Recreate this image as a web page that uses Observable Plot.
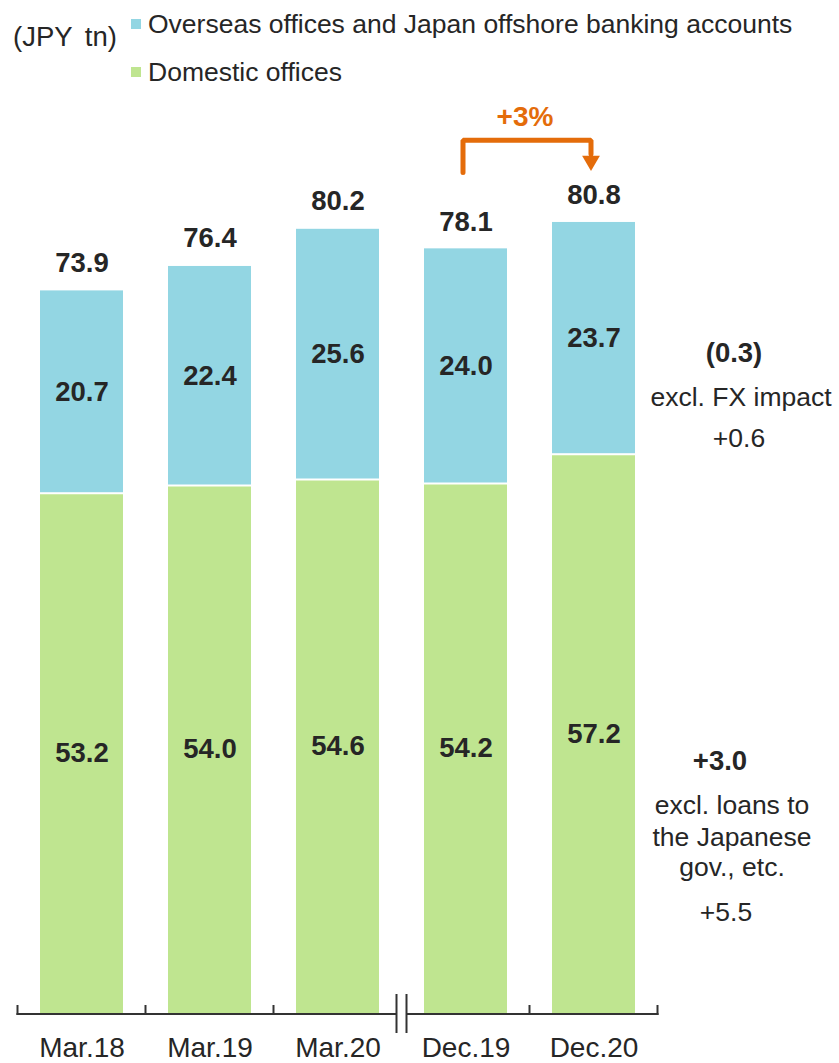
<!DOCTYPE html>
<html><head><meta charset="utf-8">
<script src="https://cdn.jsdelivr.net/npm/d3@7"></script>
<script src="https://cdn.jsdelivr.net/npm/@observablehq/plot@0.6"></script>
<style>
html,body{margin:0;padding:0;overflow:hidden;background:#fff;}
#wrap{position:relative;width:839px;height:1063px;font-family:"Liberation Sans",Arial,sans-serif;}
#chart{position:absolute;left:0;top:0;}
.lg{position:absolute;font-size:26.5px;line-height:26px;color:#262626;white-space:nowrap;}
.sw{position:absolute;width:10px;height:10px;}
</style></head><body>
<div id="wrap"><div id="chart"></div></div>
<script>
// ---- data ----
const categories = ["Mar.18","Mar.19","Mar.20","Dec.19","Dec.20"];
const domestic = [53.2, 54.0, 54.6, 54.2, 57.2];
const overseas = [20.7, 22.4, 25.6, 24.0, 23.7];
const totals = [73.9, 76.4, 80.2, 78.1, 80.8];
const seriesNames = ["Domestic offices", "Overseas offices and Japan offshore banking accounts"];
const seriesColors = ["#BFE590", "#93D6E3"];
const unitLabel = "(JPY tn)";
const breakAfter = "Mar.20";
const growthLabel = "+3%";
const growthFrom = "Dec.19", growthTo = "Dec.20";
const bracketLevel = 89.3, bracketFromEnd = 86.0, bracketToEnd = 87.9, arrowHead = 87.2;
const overseasNotes = ["(0.3)", "excl. FX impact", "+0.6"];
const domesticNotes = ["+3.0", "excl. loans to", "the Japanese", "gov., etc.", "+5.5"];

// ---- derived tables ----
const rows = [];
categories.forEach((c, i) => {
  rows.push({cat: c, series: seriesNames[0], value: domestic[i], mid: domestic[i] / 2});
  rows.push({cat: c, series: seriesNames[1], value: overseas[i], mid: domestic[i] + overseas[i] / 2});
});
const seps = categories.map((c, i) => ({cat: c, y: domestic[i]}));
const tots = categories.map((c, i) => ({cat: c, y: totals[i], label: totals[i].toFixed(1)}));
const last = categories.length - 1;
const bracket = [
  {x: growthFrom, y: bracketFromEnd},
  {x: growthFrom, y: bracketLevel},
  {x: growthTo, y: bracketLevel},
  {x: growthTo, y: bracketToEnd}
];
const orange = "#E46C0A";
const ink = "#262626";
const overMid = domestic[last] + overseas[last] / 2;
const domMid = domestic[last] / 2;
const overDy = [15, 59, 100], overDx = [140, 147, 145];
const domDy = [27, 72, 104, 134, 179], domDx = [126, 138, 138, 138, 132];
const noteBold = (j) => j === 0;

// custom broken x axis drawn from the band scale
function axisMark(index, scales) {
  const x = scales.x, y = scales.y;
  const step = x.step(), bw = x.bandwidth();
  const b0 = x(categories[0]) - (step - bw) / 2;
  const k = categories.indexOf(breakAfter) + 1;
  const n = categories.length;
  const y0 = y(0) + 1;
  const ns = "http://www.w3.org/2000/svg";
  const g = document.createElementNS(ns, "g");
  g.setAttribute("stroke", "#333");
  g.setAttribute("stroke-width", "2");
  g.setAttribute("fill", "none");
  const line = (x1, y1, x2, y2) => {
    const l = document.createElementNS(ns, "line");
    l.setAttribute("x1", x1); l.setAttribute("y1", y1);
    l.setAttribute("x2", x2); l.setAttribute("y2", y2);
    g.appendChild(l);
  };
  const bk = b0 + k * step;
  line(b0 - 1, y0, bk - 5, y0);
  line(bk + 5, y0, b0 + n * step + 1, y0);
  for (let i = 0; i <= n; i++) {
    if (i === k) continue;
    const bx = b0 + i * step;
    line(bx, y0 - 9, bx, y0 + 1);
  }
  line(bk - 5, y0 - 20, bk - 5, y0 + 19);
  line(bk + 5, y0 - 20, bk + 5, y0 + 19);
  return g;
}

const noteMarks = (notes, yMid, dxs, dys) => notes.map((t, j) =>
  Plot.text([t], {x: () => categories[last], y: () => yMid, text: d => d,
    dx: dxs[j], dy: dys[j], fontSize: noteBold(j) ? 27.5 : 26.5,
    fontWeight: noteBold(j) ? "bold" : "normal", fill: ink}));

const chart = Plot.plot({
  width: 839,
  height: 1063,
  marginTop: 0,
  marginBottom: 50,
  marginLeft: 15.6,
  marginRight: 179.6,
  x: {domain: categories, paddingInner: 0.348, paddingOuter: 0.174, axis: null},
  y: {domain: [0, 103.6], axis: null},
  color: {domain: seriesNames, range: seriesColors},
  style: {fontFamily: "'Liberation Sans', Arial, sans-serif", background: "white", overflow: "visible"},
  marks: [
    Plot.barY(rows, {x: "cat", y: "value", fill: "series", order: seriesNames}),
    Plot.tickY(seps, {x: "cat", y: "y", stroke: "white", strokeWidth: 2}),
    Plot.text(rows, {x: "cat", y: "mid", text: d => d.value.toFixed(1), fontSize: 27.5, fontWeight: "bold", fill: ink}),
    Plot.text(tots, {x: "cat", y: "y", text: "label", dy: -28, fontSize: 27.5, fontWeight: "bold", fill: ink}),
    axisMark,
    Plot.text(categories, {x: d => d, y: () => 0, dy: 35, fontSize: 28, fill: ink}),
    // growth bracket
    Plot.line(bracket, {x: "x", y: "y", stroke: orange, strokeWidth: 5, strokeLinejoin: "miter", strokeLinecap: "round", dx: -3}),
    Plot.dot([{x: growthTo, y: arrowHead}], {x: "x", y: "y", symbol: "triangle", rotate: 180, r: 6.6, fill: orange, stroke: "none", dx: -3}),
    Plot.text([growthLabel], {x: () => growthFrom, y: () => bracketLevel, text: d => d, dx: 59, dy: -23, fontSize: 28, fontWeight: "bold", fill: orange}),
    // side notes
    ...noteMarks(overseasNotes, overMid, overDx, overDy),
    ...noteMarks(domesticNotes, domMid, domDx, domDy)
  ]
});
document.getElementById("chart").appendChild(chart);

// ---- legend (HTML, overlaid at top) ----
const wrap = document.getElementById("wrap");
function addDiv(cls, style, text) {
  const d = document.createElement("div");
  d.className = cls;
  d.setAttribute("style", style);
  if (text) d.textContent = text;
  wrap.appendChild(d);
}
addDiv("lg", "left:13px;top:24px;word-spacing:5px;font-size:27.5px", unitLabel);
const legendOrder = [1, 0];
legendOrder.forEach((s, j) => {
  const top = 11 + j * 48;
  addDiv("sw", `left:131px;top:${top + 8}px;background:${seriesColors[s]}`);
  addDiv("lg", `left:148px;top:${top}px`, seriesNames[s]);
});
</script>
</body></html>
